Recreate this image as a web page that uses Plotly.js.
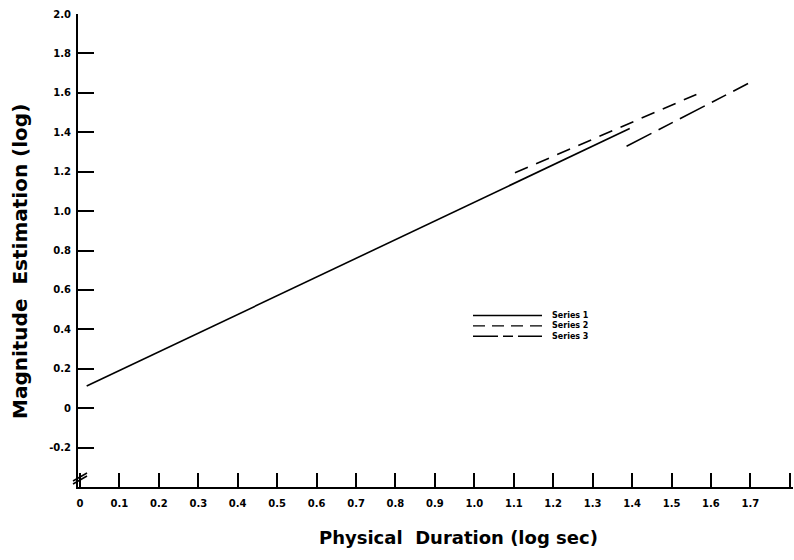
<!DOCTYPE html>
<html>
<head>
<meta charset="utf-8">
<script src="https://cdn.plot.ly/plotly-3.0.1.min.js"></script>
<style>
html,body{margin:0;padding:0;background:#fff;}
#chart{width:794px;height:560px;}
</style>
</head>
<body>
<div id="chart"></div>
<script>
// ---- data ----
var seriesNames = ["Series 1", "Series 2", "Series 3"];
var series1X = [0.017, 1.394];
var series1Y = [0.112, 1.419];
var series2X = [1.103, 1.563];
var series2Y = [1.194, 1.592];
var series3X = [1.386, 1.694];
var series3Y = [1.329, 1.647];
var xTickVals = [0, 0.1, 0.2, 0.3, 0.4, 0.5, 0.6, 0.7, 0.8, 0.9, 1.0, 1.1, 1.2, 1.3, 1.4, 1.5, 1.6, 1.7, 1.8];
var xTickText = ["0", "0.1", "0.2", "0.3", "0.4", "0.5", "0.6", "0.7", "0.8", "0.9", "1.0", "1.1", "1.2", "1.3", "1.4", "1.5", "1.6", "1.7", "1.8"];
var yTickVals = [-0.2, 0, 0.2, 0.4, 0.6, 0.8, 1.0, 1.2, 1.4, 1.6, 1.8, 2.0];
var yTickText = ["-0.2", "0", "0.2", "0.4", "0.6", "0.8", "1.0", "1.2", "1.4", "1.6", "1.8", "2.0"];
var xTitle = "Physical&nbsp;&nbsp;Duration (log sec)";
var yTitle = "Magnitude&nbsp;&nbsp;Estimation (log)";

// ---- styles ----
var FONT = "'DejaVu Sans', sans-serif";
var W = 794, H = 560;
var M = {l: 78, r: 1, t: 14, b: 73};
var plotW = W - M.l - M.r, plotH = H - M.t - M.b;
function px(x) { return (x - M.l) / plotW; }
function py(y) { return (H - M.b - y) / plotH; }

var dashes = ["solid", "14px,9px", "28px,8px,16px,8px"];
var legendDashes = ["solid", "12px,7px", "25px,5px,10px,5px"];

var traces = [
  {x: series1X, y: series1Y, name: seriesNames[0]},
  {x: series2X, y: series2Y, name: seriesNames[1]},
  {x: series3X, y: series3Y, name: seriesNames[2]}
].map(function (t, i) {
  t.type = "scatter"; t.mode = "lines";
  t.line = {color: "#000", width: 1.6, dash: dashes[i]};
  t.showlegend = false;
  t.hoverinfo = "skip";
  return t;
});

var shapes = [];
var annotations = [];
// custom legend: line samples plus one multi-line text block
var legTop = 315.5, legStep = 10.4;
seriesNames.forEach(function (n, i) {
  var yy = legTop + i * legStep;
  shapes.push({type: "line", xref: "paper", yref: "paper",
    x0: px(473), x1: px(542), y0: py(yy), y1: py(yy),
    line: {color: "#000", width: 1.4, dash: legendDashes[i]}});
});
annotations.push({xref: "paper", yref: "paper", x: px(550), y: py(legTop + legStep),
  xanchor: "left", yanchor: "middle", align: "left", text: seriesNames.join("<br>"), showarrow: false,
  font: {family: FONT, size: 8, color: "#000", weight: "bold"}});
// axis break mark
shapes.push({type: "line", xref: "paper", yref: "paper", x0: px(73), y0: py(484), x1: px(87), y1: py(476), line: {color: "#000", width: 1.5}});
shapes.push({type: "line", xref: "paper", yref: "paper", x0: px(73), y0: py(481), x1: px(87), y1: py(473), line: {color: "#000", width: 1.5}});
// axis titles
annotations.push({xref: "paper", yref: "paper", x: px(458), y: py(537), xanchor: "center", yanchor: "middle",
  text: xTitle, showarrow: false, font: {family: FONT, size: 18, color: "#000", weight: "bold"}});
annotations.push({xref: "paper", yref: "paper", x: px(20), y: py(262), xanchor: "center", yanchor: "middle",
  text: yTitle, textangle: -90, showarrow: false, font: {family: FONT, size: 20, color: "#000", weight: "bold"}});

var layout = {
  width: W, height: H,
  margin: M,
  paper_bgcolor: "#fff", plot_bgcolor: "#fff",
  showlegend: false,
  xaxis: {
    range: [-0.005, 1.808], showgrid: false, zeroline: false,
    showline: true, linecolor: "#000", linewidth: 2,
    ticks: "inside", ticklen: 14, tickwidth: 2, tickcolor: "#000",
    tickvals: xTickVals, ticktext: xTickText,
    tickfont: {family: FONT, size: 10, color: "#000", weight: "bold"},
    ticklabelstandoff: 6
  },
  yaxis: {
    range: [-0.4, 2.0], showgrid: false, zeroline: false,
    showline: true, linecolor: "#000", linewidth: 2,
    ticks: "inside", ticklen: 16, tickwidth: 2, tickcolor: "#000",
    tickvals: yTickVals, ticktext: yTickText,
    tickfont: {family: FONT, size: 10, color: "#000", weight: "bold"},
    ticklabelstandoff: 3
  },
  shapes: shapes,
  annotations: annotations
};

Plotly.newPlot("chart", traces, layout, {staticPlot: true, displayModeBar: false});
</script>
</body>
</html>
